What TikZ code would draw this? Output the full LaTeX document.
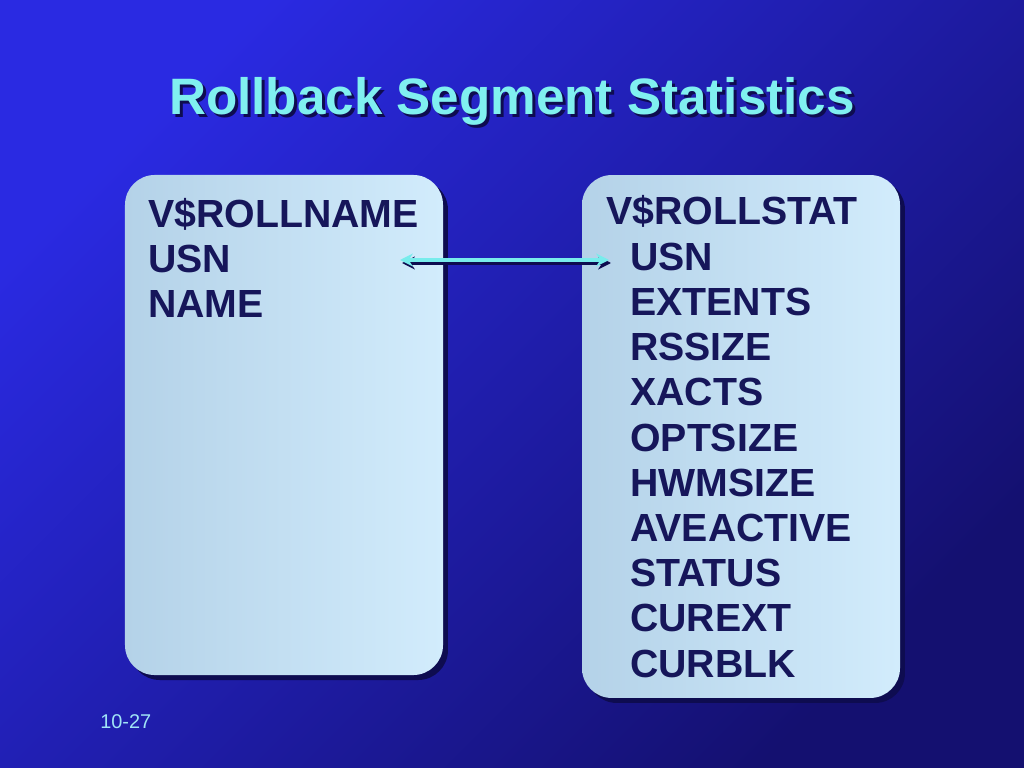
\documentclass[tikz,border=0pt]{standalone}
\usepackage{fontspec}
\setmainfont{Liberation Sans}
\usetikzlibrary{positioning, arrows.meta, shadows}

\definecolor{bgtop}{RGB}{42,42,226}
\definecolor{bgbot}{RGB}{20,16,112}
\definecolor{panelleft}{RGB}{180,210,232}
\definecolor{panelright}{RGB}{210,236,252}
\definecolor{panelshadow}{RGB}{14,12,80}
\definecolor{titlecyan}{RGB}{128,240,240}
\definecolor{inkblue}{RGB}{22,22,90}
\definecolor{linkcyan}{RGB}{120,236,236}
\definecolor{footcyan}{RGB}{160,228,246}

\begin{document}
\begin{tikzpicture}[
        x=0.703125pt, y=-0.703125pt,
        panel/.style={rectangle, rounded corners=21pt, left color=panelleft, right color=panelright, minimum width=223.6pt, drop shadow={shadow xshift=3.5pt, shadow yshift=-3.5pt, fill=panelshadow, opacity=1}},
        heading/.style={font=\fontsize{36}{43}\selectfont\bfseries, text=titlecyan, inner sep=0pt, anchor=base},
        headshadow/.style={heading, text=panelshadow},
        field/.style={font=\fontsize{27.6}{32}\selectfont\bfseries, text=inkblue, inner sep=0pt, anchor=base west},
        link/.style={line width=3pt, {Stealth[length=9pt,width=9pt]}-{Stealth[length=9pt,width=9pt]}}
    ]

    % Background
    \useasboundingbox (0,0) rectangle (1024,768);
    \shade[top color=bgtop, bottom color=bgbot, shading angle=45] (0,0) rectangle (1024,768);

    % Title
    \node (titleshadow) [headshadow] at (515,118) {Rollback Segment Statistics};
    \node (title) [heading] at (512,115) {Rollback Segment Statistics};

    % Panels
    \node (rollname) [panel, minimum height=351.6pt] at (284,425) {};
    \node (rollstat) [panel, minimum height=367.7pt] at (741,436.5) {};

    % V$ROLLNAME columns
    \foreach \t [count=\i from 0] in {V\$ROLLNAME, USN, NAME}
        \node (name\i) [field] at (148,228+45*\i) {\t};

    % V$ROLLSTAT columns
    \node (stathead) [field] at (606,225) {V\$ROLLSTAT};
    \foreach \t [count=\i] in {USN, EXTENTS, RSSIZE, XACTS, OPTSIZE, HWMSIZE, AVEACTIVE, STATUS, CUREXT, CURBLK}
        \node (stat\i) [field] at (630,225+45.2*\i) {\t};

    % Join on USN
    \coordinate (usnL) at (400,260);
    \coordinate (usnR) at (609,260);
    \draw [link, draw=panelshadow] ([shift={(2,3)}]usnL) -- ([shift={(2,3)}]usnR);
    \draw [link, draw=linkcyan] (usnL) -- (usnR);

    % Page number
    \node (pagenum) [font=\fontsize{14}{17}\selectfont, text=footcyan, inner sep=0pt, anchor=base west] at (100,728) {10-27};

\end{tikzpicture}
\end{document}
